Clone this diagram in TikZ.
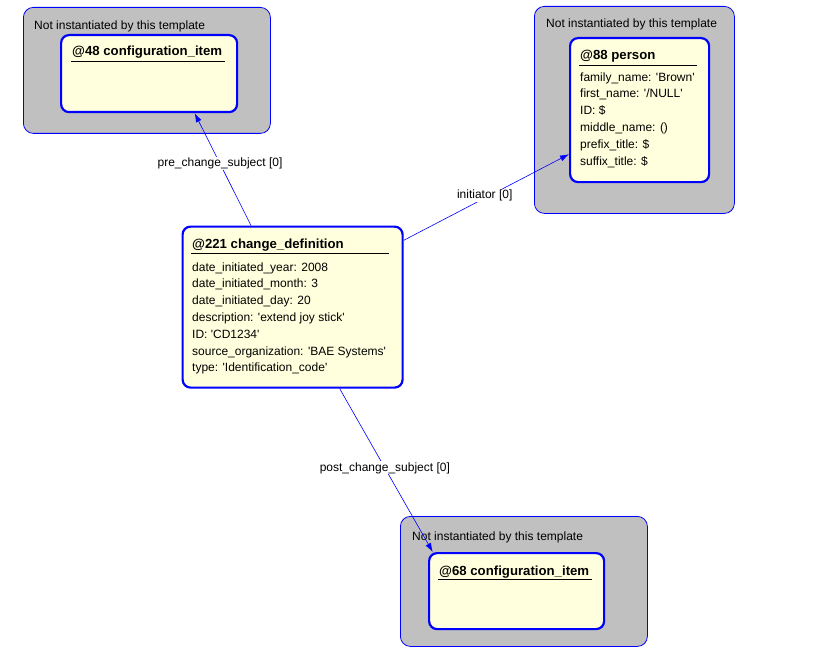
\documentclass[tikz,border=0pt]{standalone}
\usepackage{fontspec}
\setmainfont{Liberation Sans}[Ligatures=TeXOff]
\usetikzlibrary{positioning,arrows.meta}
\definecolor{tplgray}{HTML}{C0C0C0}
\definecolor{instyellow}{HTML}{FFFFDD}
\definecolor{linkblue}{HTML}{0000FF}
\begin{document}
\begin{tikzpicture}[x=1pt,y=-1pt,
        template/.style={draw=linkblue, fill=tplgray, line width=0.8pt, rounded corners=10pt, anchor=north west, inner sep=0pt},
        instance/.style={draw=linkblue, fill=instyellow, line width=2.2pt, rounded corners=8pt, anchor=north west, inner sep=0pt},
        caption/.style={anchor=base west, inner sep=0pt, font=\fontsize{12}{14}\selectfont},
        title/.style={anchor=base west, inner sep=0pt, font=\bfseries\fontsize{13.2}{15}\selectfont},
        attrs/.style={anchor=north west, inner sep=0pt, align=left, font=\fontsize{12}{16.8}\selectfont},
        link/.style={draw=linkblue, line width=0.6pt, -{Latex[length=9pt,width=6pt]}},
        role/.style={fill=white, inner sep=1pt, font=\fontsize{12}{14}\selectfont}]
        \useasboundingbox (0,0) rectangle (815,669);
        % configuration item 48
        \node [template, minimum width=247pt, minimum height=126pt] (tpl48) at (23,7) {};
        \node [caption] (cap48) at (34,29.5) {Not instantiated by this template};
        \node [instance, minimum width=176pt, minimum height=77pt] (item48) at (60,34) {};
        \node [title] (title48) at (72,56) {@48 configuration\_item};
        \draw [line width=0.8pt] (71,61) -- (225,61);
        % person 88
        \node [template, minimum width=200pt, minimum height=207pt] (tpl88) at (534,6) {};
        \node [caption] (cap88) at (546,27.5) {Not instantiated by this template};
        \node [instance, minimum width=139pt, minimum height=144pt] (person88) at (569,37) {};
        \node [title] (title88) at (580,59.5) {@88 person};
        \draw [line width=0.8pt] (579,65) -- (697,65);
        \node [attrs] (attrs88) at (580,72.3) {family\_name: 'Brown'\\first\_name: '/NULL'\\ID: \$\\middle\_name: ()\\prefix\_title: \$\\suffix\_title: \$};
        % change definition 221
        \node [instance, minimum width=220pt, minimum height=161pt] (change221) at (181.5,225.5) {};
        \node [title] (title221) at (192,248.5) {@221 change\_definition};
        \draw [line width=0.8pt] (191,253.5) -- (389,253.5);
        \node [attrs] (attrs221) at (192,262.3) {date\_initiated\_year: 2008\\date\_initiated\_month: 3\\date\_initiated\_day: 20\\description: 'extend joy stick'\\ID: 'CD1234'\\source\_organization: 'BAE Systems'\\type: 'Identification\_code'};
        % configuration item 68
        \node [template, minimum width=247pt, minimum height=130pt] (tpl68) at (400,516) {};
        \node [caption] (cap68) at (412,540) {Not instantiated by this template};
        \node [instance, minimum width=175pt, minimum height=76pt] (item68) at (428,552) {};
        \node [title] (title68) at (439,575) {@68 configuration\_item};
        \draw [line width=0.8pt] (438,579.5) -- (592,579.5);
        % links
        \draw [link] (change221.117.8) -- node [role, pos=0.55] {pre\_change\_subject [0]} (item48.-41);
        \draw [link] (change221.31) -- node [role, pos=0.49, yshift=3pt] {initiator [0]} (person88.-148.3);
        \draw [link] (change221.-60.9) -- node [role, pos=0.485] {post\_change\_subject [0]} (item68.155);
\end{tikzpicture}
\end{document}
